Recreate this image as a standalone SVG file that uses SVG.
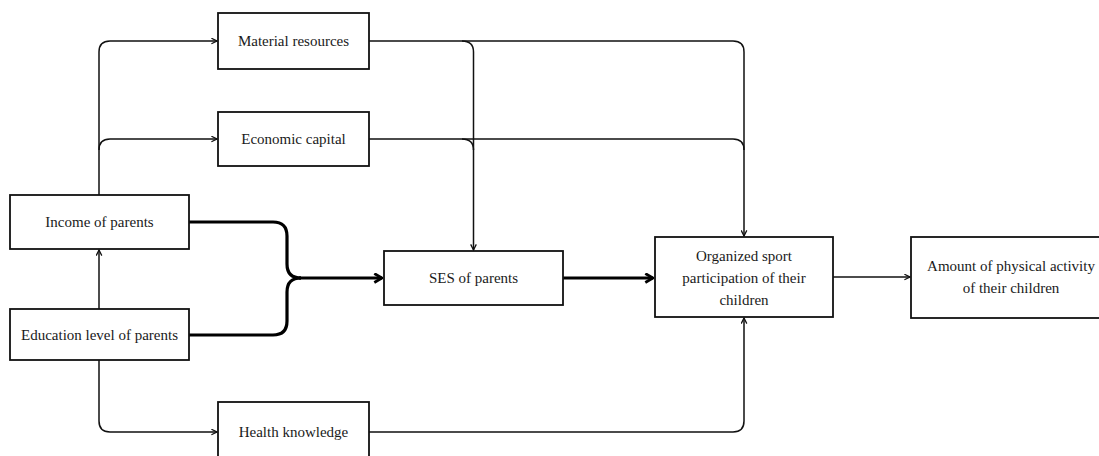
<svg xmlns="http://www.w3.org/2000/svg" width="1099" height="456" viewBox="0 0 1099 456">
<style>
.box{fill:#fff;stroke:#111;stroke-width:1.8}
.t{font-family:"Liberation Serif","Times New Roman",serif;font-size:15px;fill:#1a1a1a;text-anchor:middle}
.c{fill:none;stroke:#111;stroke-width:1.5}
.k{fill:none;stroke:#000;stroke-width:3.2}
</style>
<defs>
<marker id="a" viewBox="0 0 10 10" refX="9" refY="5" markerWidth="7" markerHeight="7" markerUnits="userSpaceOnUse" orient="auto">
<path d="M1,1 L9,5 L1,9" fill="none" stroke="#111" stroke-width="1.8"/>
</marker>
<marker id="b" viewBox="0 0 10 10" refX="9" refY="5" markerWidth="11" markerHeight="11" markerUnits="userSpaceOnUse" orient="auto">
<path d="M2,1 L9,5 L2,9" fill="none" stroke="#000" stroke-width="2.6"/>
</marker>
</defs>
<g id="connectors">
<path class="c" d="M99,195 V52 Q99,41 110,41 H217" marker-end="url(#a)"/>
<path class="c" d="M99,150 Q99,139 110,139 H217" marker-end="url(#a)"/>
<path class="c" d="M99,309 V250" marker-end="url(#a)"/>
<path class="c" d="M99,360 V421 Q99,432 110,432 H217" marker-end="url(#a)"/>
<path class="c" d="M369,432 H733 Q744,432 744,421 V318" marker-end="url(#a)"/>
<path class="c" d="M369,41 H733 Q744,41 744,52 V236" marker-end="url(#a)"/>
<path class="c" d="M369,139 H733 Q744,139 744,150"/>
<path class="c" d="M462,41 Q473.5,41 473.5,52 V250" marker-end="url(#a)"/>
<path class="c" d="M462,139 Q473.5,139 473.5,150"/>
<path class="c" d="M833,277 H910" marker-end="url(#a)"/>
<path class="k" d="M189,222 H273 Q287,222 287,236 V264 Q287,278 301,278"/>
<path class="k" d="M189,335 H273 Q287,335 287,321 V292 Q287,278 301,278"/>
<path class="k" d="M299,278 H382" marker-end="url(#b)"/>
<path class="k" d="M563,278 H653" marker-end="url(#b)"/>
</g>
<g id="material">
<rect class="box" x="218" y="13" width="151" height="56"/>
<text class="t" x="293.5" y="46">Material resources</text>
</g>
<g id="economic">
<rect class="box" x="218" y="112" width="151" height="54"/>
<text class="t" x="293.5" y="144">Economic capital</text>
</g>
<g id="income">
<rect class="box" x="10" y="195" width="179" height="54"/>
<text class="t" x="99.5" y="227">Income of parents</text>
</g>
<g id="education">
<rect class="box" x="10" y="309" width="179" height="51"/>
<text class="t" x="99.5" y="340">Education level of parents</text>
</g>
<g id="health">
<rect class="box" x="218" y="402" width="151" height="60"/>
<text class="t" x="293.5" y="437">Health knowledge</text>
</g>
<g id="ses">
<rect class="box" x="384" y="251" width="179" height="54"/>
<text class="t" x="473.5" y="283">SES of parents</text>
</g>
<g id="organized">
<rect class="box" x="655" y="237" width="178" height="80"/>
<text class="t" x="744" y="261">Organized sport</text>
<text class="t" x="744" y="283">participation of their</text>
<text class="t" x="744" y="305">children</text>
</g>
<g id="amount">
<rect class="box" x="911" y="237" width="200" height="81"/>
<text class="t" x="1011" y="271">Amount of physical activity</text>
<text class="t" x="1011" y="293">of their children</text>
</g>
</svg>
